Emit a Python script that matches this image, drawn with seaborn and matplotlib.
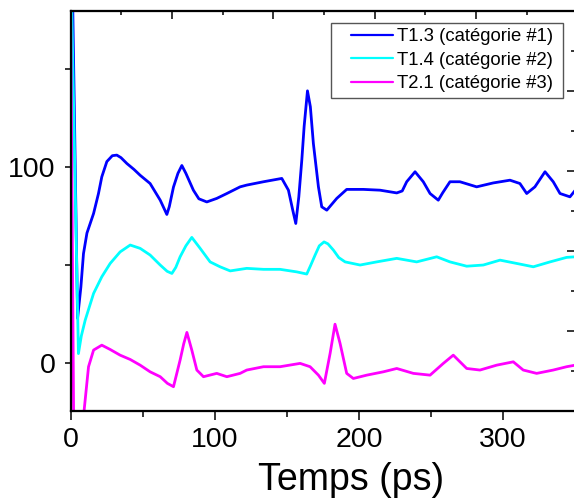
import numpy as np
import pandas as pd
import matplotlib
matplotlib.use("Agg")
import matplotlib.pyplot as plt
from matplotlib.ticker import MultipleLocator, NullFormatter
from matplotlib.lines import Line2D
from matplotlib.legend_handler import HandlerLine2D
import seaborn as sns

# ---------------- data ----------------
labels = ["T1.3 (catégorie #1)", "T1.4 (catégorie #2)", "T2.1 (catégorie #3)"]
colors = ["#0000ff", "#00ffff", "#ff00ff"]

t_blue = [0, 1.6, 4.9, 7.2, 9.0, 11.4, 16, 19.4, 21.7, 25.2, 29, 32.1, 35, 39.1, 44, 48.3,
          55.2, 62.2, 66.8, 68.5, 71.4, 74.5, 77.2, 80, 85.2, 89, 94.5, 101.4, 108.4, 117.6,
          122.2, 133.8, 146.5, 151.1, 154.1, 156.2, 158.3, 160.4, 162, 164.3, 166.3, 168.4,
          171.9, 174.2, 177.7, 184.6, 191.5, 203.1, 214.6, 226.2, 230, 233.1, 238.9, 244.6,
          249.3, 255, 258, 263.1, 270, 281.6, 293.1, 304.7, 311.6, 316.3, 322, 329, 334.7,
          339.4, 346.3, 350]
v_blue = [256, 180, 23, 39, 56, 66.5, 76.5, 86.7, 95.2, 103, 106, 106.3, 105, 102, 99, 96,
          91.8, 83.3, 76, 80, 90, 97, 101, 97, 88.4, 84, 82.4, 84.2, 86.7, 90.1,
          91, 92.7, 94.4, 88.4, 78.2, 71.4, 85, 104, 121, 139.1, 131, 112.2,
          90.1, 79.9, 78.2, 84.2, 88.8, 88.8, 88.4, 87, 88, 92.7, 97.8, 92.7,
          86.7, 83.3, 87, 92.7, 92.7, 90.1, 92.1, 93.5, 91.8, 86.7, 90.1, 97.8, 92.7,
          86.7, 85, 88.4]

t_cyan = [0, 0.9, 3.2, 5.5, 7.5, 10.2, 16, 21.7, 27.5, 34.4, 41.4, 48.3, 55.2, 62.2, 67,
          70.3, 73, 76, 80, 84.1, 89.9, 96.8, 103.7, 110.7, 122.2, 133.8, 145.3, 156.9,
          163.8, 166.5, 169.6, 172.5, 175.8, 178.5, 182.3, 186, 190.4, 200.8, 212.3, 226.2,
          240, 253.9, 263.1, 274.7, 286.2, 297.8, 309.4, 320.9, 332.5, 344, 350]
v_cyan = [215, 180, 92, 5, 14, 22.1, 35.7, 44.2, 51, 56.9, 60.4, 58.7, 55.3, 50.2, 47,
          45.9, 49, 54.4, 60, 64.3, 58.7, 51.8, 49.3, 47.2, 48.5, 48, 48, 46.7,
          45.6, 50, 55.3, 60, 62, 61, 57.8, 54, 51.8, 50.2, 51.8, 53.6,
          51.8, 54.4, 51.8, 49.6, 50.2, 52.7, 51, 49.3, 51.8, 54.1, 54.4]

t_mag = [0, 2.2, 6, 9.3, 12.5, 16, 21.7, 27.5, 34.4, 41.4, 48.3, 55.2, 62.2, 67.2, 71.4,
         76, 78.5, 80.7, 84.1, 87.6, 92.2, 101.4, 108.4, 117.6, 122.2, 133.8, 145.3, 159.2,
         166.1, 171.9, 176, 180, 183.4, 186.9, 191.5, 196.1, 205.4, 216.9, 226.2, 237.7,
         249.3, 258.5, 265.4, 274.7, 283.9, 295.5, 307, 313.9, 323.2, 334.7, 344, 350]
v_mag = [190, -30, -60, -25, -1.7, 6.8, 9.3, 7.1, 4.2, 2, -0.9, -4.3, -6.8, -10.2, -11.9,
         1.7, 10, 15.8, 6.8, -3.4, -6.8, -5.1, -6.8, -5.1, -3.4, -1.7, -1.7, 0,
         -1.7, -6, -10.2, 5.1, 20, 10.2, -5.1, -7.7, -6, -4.3, -2.6, -5.1,
         -6, 0, 4.2, -2.6, -3.4, -0.9, 0.8, -3.4, -5.1, -3.4, -1.7, -0.9]

xticks_major = [0, 100, 200, 300]
yticks_major = [0, 100]

df = pd.concat([
    pd.DataFrame({"t": t_blue, "v": v_blue, "series": labels[0]}),
    pd.DataFrame({"t": t_cyan, "v": v_cyan, "series": labels[1]}),
    pd.DataFrame({"t": t_mag, "v": v_mag, "series": labels[2]}),
], ignore_index=True)

# ---------------- style ----------------
sns.set_style("ticks")
plt.rcParams["font.family"] = ["Liberation Sans", "DejaVu Sans"]
plt.rcParams["text.color"] = "black"
plt.rcParams["axes.labelcolor"] = "black"
plt.rcParams["xtick.color"] = "black"
plt.rcParams["ytick.color"] = "black"
plt.rcParams["axes.edgecolor"] = "black"

W, H = 574, 500
fig = plt.figure(figsize=(W / 100, H / 100), dpi=100)
L, R, T, B = 70.5, 575.3, 10.7, 411.0
ax = fig.add_axes([L / W, 1 - B / H, (R - L) / W, (B - T) / H])

sns.lineplot(data=df, x="t", y="v", hue="series", hue_order=labels,
             palette=dict(zip(labels, colors)), estimator=None, sort=False,
             linewidth=2.0, ax=ax, legend=True)

ax.set_xlim(0, 350)
ax.set_ylim(-24.3, 180)
ax.set_xticks(xticks_major)
ax.set_yticks(yticks_major)
ax.xaxis.set_minor_locator(MultipleLocator(50))
ax.yaxis.set_minor_locator(MultipleLocator(50))
ax.tick_params(axis="x", which="major", direction="out", length=6.5, width=1.1,
               labelsize=20.5, pad=5, colors="black")
ax.tick_params(axis="x", which="minor", direction="out", length=4.3, width=1.1)
ax.tick_params(axis="y", which="major", direction="out", length=4.3, width=1.1,
               labelsize=20.5, pad=6.5, colors="black")
ax.tick_params(axis="y", which="minor", direction="out", length=4.0, width=1.1)
ax.set_ylabel("")
ax.set_xlabel("Temps (ps)", fontsize=27, color="black")
ax.xaxis.set_label_coords((351 - L) / (R - L), -0.127)
for s in ax.spines.values():
    s.set_linewidth(1.5)
    s.set_color("black")

# top and right mirror axes (tick marks only, inward)
axt = ax.twiny()
axt.set_xlim(0, (R - L) / 50.7)
axt.xaxis.set_major_locator(MultipleLocator(2))
axt.xaxis.set_minor_locator(MultipleLocator(1))
axt.xaxis.set_major_formatter(NullFormatter())
axt.tick_params(axis="x", which="major", direction="in", length=5.8, width=1.1, top=True)
axt.tick_params(axis="x", which="minor", direction="in", length=3.0, width=1.1, top=True)
axt.yaxis.set_visible(False)

axr = ax.twinx()
axr.set_ylim(0, 10)
axr.yaxis.set_major_locator(MultipleLocator(2))
axr.yaxis.set_minor_locator(MultipleLocator(1))
axr.yaxis.set_major_formatter(NullFormatter())
axr.tick_params(axis="y", which="major", direction="in", length=5.8, width=1.1, right=True)
axr.tick_params(axis="y", which="minor", direction="in", length=3.0, width=1.1, right=True)
for a in (axt, axr):
    for s in a.spines.values():
        s.set_linewidth(1.5)
        s.set_color("black")

# legend
old = ax.get_legend()
handles = [Line2D([], [], color=c, linewidth=1.6) for c in colors]
old.remove()
fs = 13.3
leg = axr.legend(handles, labels, loc="upper left", mode="expand",
                 bbox_to_anchor=((330.7 - L) / (R - L), 0.0, (563.3 - 330.7) / (R - L), 0.970),
                 borderaxespad=0, borderpad=0.3, handlelength=3.05, handletextpad=0.24,
                 labelspacing=0.35, fontsize=fs, frameon=True, fancybox=False,
                 framealpha=1, edgecolor="#555555",
                 handler_map={Line2D: HandlerLine2D(xpad=0.78)})
leg.get_frame().set_linewidth(1.0)

fig.savefig("out.png", dpi=100)
